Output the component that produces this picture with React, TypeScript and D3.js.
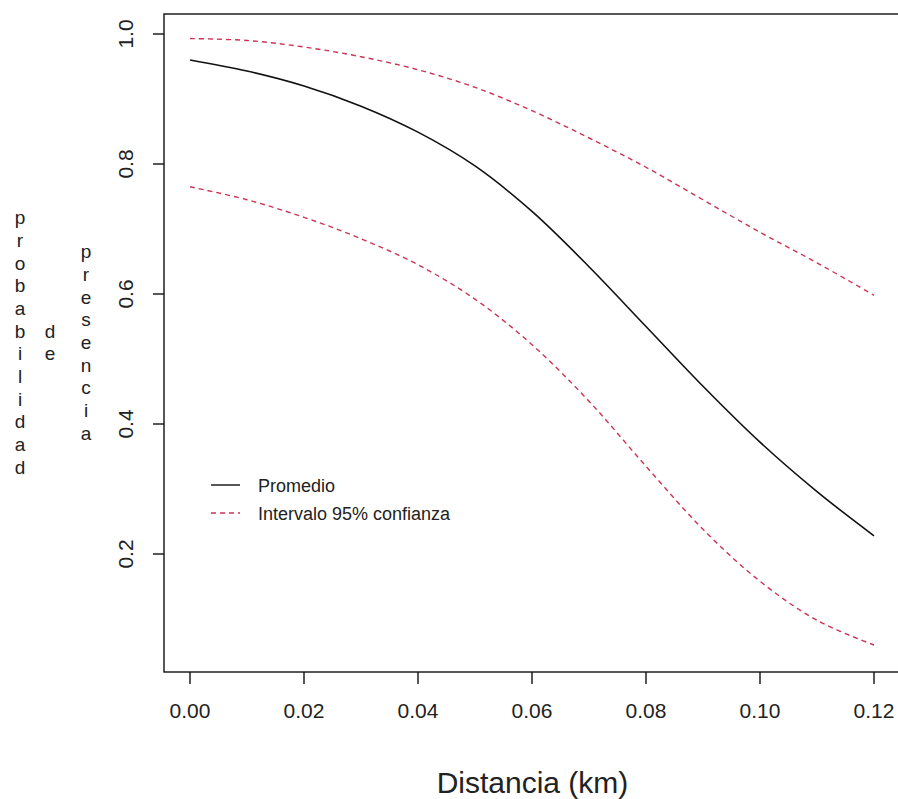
import * as d3 from 'd3';

// distance (km) sampled along the fitted curve
const distances = [0, 0.01, 0.02, 0.03, 0.04, 0.05, 0.06, 0.07, 0.08, 0.09, 0.1, 0.11, 0.12];
const meanProb = [0.96, 0.943, 0.92, 0.889, 0.849, 0.797, 0.727, 0.642, 0.55, 0.458, 0.372, 0.296, 0.228];
const upperProb = [0.993, 0.99, 0.98, 0.965, 0.945, 0.918, 0.882, 0.84, 0.795, 0.745, 0.695, 0.648, 0.598];
const lowerProb = [0.765, 0.745, 0.718, 0.685, 0.645, 0.592, 0.522, 0.435, 0.335, 0.238, 0.158, 0.098, 0.06];

const xTicks = [0, 0.02, 0.04, 0.06, 0.08, 0.1, 0.12];
const yTicks = [0.2, 0.4, 0.6, 0.8, 1.0];
const yLabelColumns = ['probabilidad', 'de', 'presencia'];
const legendItems = [
  { label: 'Promedio', color: '#111', dash: null },
  { label: 'Intervalo 95% confianza', color: '#cc3355', dash: '5 4' },
];

const W = 898;
const H = 799;
const FONT = '"Liberation Sans", Arial, Helvetica, sans-serif';
const RED = '#cc3355';

export default function App() {
  // plot frame (R style: 4% padding around data range)
  const frame = { left: 164, top: 14, right: 901, bottom: 672 };
  const x = d3.scaleLinear().domain([0, 0.12]).range([190, 874]);
  const y = d3.scaleLinear().domain([0, 1]).range([684, 34]);

  const line = d3
    .line<number>()
    .x((_, i) => x(distances[i]))
    .y((d) => y(d))
    .curve(d3.curveCatmullRom);

  const colX = [20, 50, 86];
  const lh = 22.7;
  const midBaseline = 349;

  return (
    <svg
      width={W}
      height={H}
      viewBox={`0 0 ${W} ${H}`}
      style={{ position: 'absolute', left: 0, top: 0, background: '#fff' }}
      fontFamily={FONT}
    >
      <rect width={W} height={H} fill="#fff" />

      {/* curves */}
      <path d={line(upperProb) ?? ''} fill="none" stroke={RED} strokeWidth={1.4} strokeDasharray="5 4" />
      <path d={line(lowerProb) ?? ''} fill="none" stroke={RED} strokeWidth={1.4} strokeDasharray="5 4" />
      <path d={line(meanProb) ?? ''} fill="none" stroke="#111" strokeWidth={1.6} />

      {/* frame */}
      <rect
        x={frame.left}
        y={frame.top}
        width={frame.right - frame.left}
        height={frame.bottom - frame.top}
        fill="none"
        stroke="#111"
        strokeWidth={1.4}
      />

      {/* x axis */}
      {xTicks.map((t) => (
        <g key={t}>
          <line x1={x(t)} x2={x(t)} y1={frame.bottom} y2={frame.bottom + 12} stroke="#111" strokeWidth={1.4} />
          <text x={x(t)} y={718} textAnchor="middle" fontSize={21} fill="#222">
            {t.toFixed(2)}
          </text>
        </g>
      ))}

      {/* y axis */}
      {yTicks.map((t) => (
        <g key={t}>
          <line x1={frame.left - 11} x2={frame.left} y1={y(t)} y2={y(t)} stroke="#111" strokeWidth={1.4} />
          <text
            transform={`translate(133,${y(t)}) rotate(-90)`}
            textAnchor="middle"
            fontSize={21}
            fill="#222"
          >
            {t.toFixed(1)}
          </text>
        </g>
      ))}

      {/* stacked y label */}
      {yLabelColumns.map((word, ci) => {
        const letters = word.split('');
        const first = midBaseline - ((letters.length - 1) / 2) * lh;
        return (
          <text key={word} fontSize={19} fill="#222" textAnchor="middle">
            {letters.map((ch, i) => (
              <tspan key={i} x={colX[ci]} y={first + i * lh}>
                {ch}
              </tspan>
            ))}
          </text>
        );
      })}

      {/* x title */}
      <text x={(frame.left + frame.right) / 2} y={793} textAnchor="middle" fontSize={30} fill="#222">
        Distancia (km)
      </text>

      {/* legend */}
      {legendItems.map((item, i) => {
        const ly = 485 + i * 28;
        return (
          <g key={item.label}>
            <line
              x1={211}
              x2={240}
              y1={ly}
              y2={ly}
              stroke={item.color}
              strokeWidth={1.4}
              strokeDasharray={item.dash ?? undefined}
            />
            <text x={258} y={ly + 7} fontSize={18} fill="#222">
              {item.label}
            </text>
          </g>
        );
      })}
    </svg>
  );
}
